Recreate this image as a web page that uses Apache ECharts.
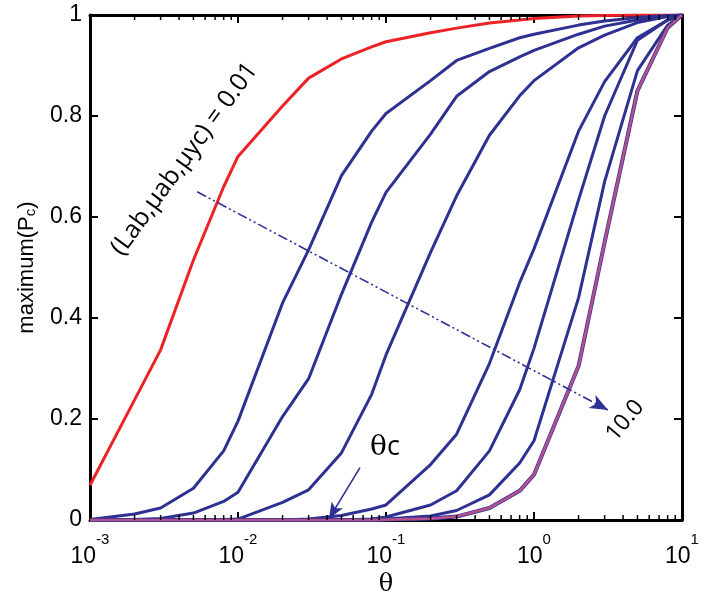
<!DOCTYPE html>
<html><head><meta charset="utf-8">
<script src="https://cdn.jsdelivr.net/npm/echarts/dist/echarts.min.js"></script>
<style>html,body{margin:0;padding:0;background:#fff}#c{width:706px;height:602px}</style>
</head><body><div id="c"></div>
<script>
// theta sample points (x axis, log scale)
const thetaValues = [0.001, 0.002, 0.003, 0.005, 0.008, 0.01, 0.02, 0.03, 0.05, 0.08, 0.1, 0.2, 0.3, 0.5, 0.8, 1, 2, 3, 5, 8, 10];
// maximum(Pc) for each curve
const redCurve   = [0.069, 0.238, 0.337, 0.515, 0.66, 0.72, 0.82, 0.875, 0.913, 0.937, 0.947, 0.965, 0.974, 0.984, 0.99, 0.993, 0.998, 0.999, 1, 1, 1];
const blueCurve1 = [0.001, 0.012, 0.024, 0.063, 0.137, 0.196, 0.43, 0.535, 0.682, 0.77, 0.805, 0.87, 0.91, 0.934, 0.955, 0.962, 0.98, 0.988, 0.995, 0.999, 1];
const blueCurve2 = [0, 0.001, 0.003, 0.014, 0.037, 0.055, 0.205, 0.28, 0.447, 0.59, 0.649, 0.764, 0.839, 0.888, 0.917, 0.93, 0.962, 0.978, 0.99, 0.998, 1];
const blueCurve3 = [0, 0, 0, 0, 0.001, 0.002, 0.035, 0.06, 0.133, 0.249, 0.327, 0.53, 0.642, 0.762, 0.84, 0.87, 0.935, 0.96, 0.985, 0.997, 1];
const blueCurve4 = [0, 0, 0, 0, 0, 0, 0, 0.002, 0.009, 0.022, 0.03, 0.11, 0.17, 0.31, 0.47, 0.537, 0.77, 0.868, 0.955, 0.99, 1];
const blueCurve5 = [0, 0, 0, 0, 0, 0, 0, 0, 0, 0.002, 0.006, 0.03, 0.058, 0.137, 0.258, 0.34, 0.634, 0.8, 0.95, 0.99, 1];
const blueCurve6 = [0, 0, 0, 0, 0, 0, 0, 0, 0, 0.001, 0.002, 0.008, 0.019, 0.05, 0.113, 0.157, 0.44, 0.67, 0.89, 0.98, 1];
const magentaCurve = [0, 0, 0, 0, 0, 0, 0, 0, 0, 0, 0.001, 0.003, 0.007, 0.024, 0.058, 0.09, 0.305, 0.55, 0.85, 0.975, 1];
// axis ticks
const yTickLabels = ['0', '0.2', '0.4', '0.6', '0.8', '1'];
const minorTickValues = [0.002,0.003,0.004,0.005,0.006,0.007,0.008,0.009,
  0.02,0.03,0.04,0.05,0.06,0.07,0.08,0.09,
  0.2,0.3,0.4,0.5,0.6,0.7,0.8,0.9,
  2,3,4,5,6,7,8,9];
// annotations (data coordinates)
const trendArrowStart = [0.0053, 0.65];
const trendArrowEnd = [3.16, 0.218];
const thetaCArrowStart = [0.0667, 0.104];
const thetaCArrowEnd = [0.0412, 0.003];
const labelLowAnchor = [0.00435, 0.715];
const labelHighAnchor = [4.12, 0.197];
const thetaCAnchor = [0.0984, 0.144];

const BLUE = '#2e3192', RED = '#ec2227', MAG = '#b5508f';
const zip = arr => thetaValues.map((x, i) => [x, arr[i]]);
const lineSeries = (arr, color, width, z) => ({
  type: 'line', data: zip(arr), showSymbol: false, symbol: 'none', z: z || 2,
  lineStyle: {color: color, width: width}, itemStyle: {color: color}, animation: false, silent: true
});

const supLabel = v => {
  const e = Math.round(Math.log10(v));
  return '{b|10}{s|' + e + '}';
};

const xCommon = {
  type: 'log', logBase: 10, min: 0.001, max: 10, gridIndex: 0,
  axisLine: {show: true, onZero: false, lineStyle: {color: '#000', width: 3}},
  axisTick: {show: true, inside: true, length: 8, lineStyle: {color: '#000', width: 2}},
  splitLine: {show: false}, minorTick: {show: false}, minorSplitLine: {show: false}
};
const yCommon = {
  type: 'value', min: 0, max: 1, interval: 0.2,
  axisLine: {show: true, onZero: false, lineStyle: {color: '#000', width: 3}},
  axisTick: {show: true, inside: true, length: 8, lineStyle: {color: '#000', width: 2}},
  splitLine: {show: false}
};

const chart = echarts.init(document.getElementById('c'), null, {renderer: 'canvas'});
const option = {
  animation: false,
  backgroundColor: '#fff',
  grid: {left: 90, right: 24, top: 15, bottom: 79, containLabel: false},
  xAxis: [
    Object.assign({}, xCommon, {
      position: 'bottom',
      axisLabel: {
        margin: 12, formatter: supLabel,
        rich: {
          b: {fontFamily: 'Liberation Sans', fontSize: 23, color: '#000', lineHeight: 36, verticalAlign: 'bottom'},
          s: {fontFamily: 'Liberation Sans', fontSize: 15, color: '#000', lineHeight: 14, verticalAlign: 'top'}
        }
      },
      name: 'θ', nameLocation: 'middle', nameGap: 50,
      nameTextStyle: {fontFamily: 'DejaVu Serif', fontSize: 24, color: '#000'}
    }),
    Object.assign({}, xCommon, {position: 'top', axisLabel: {show: false}})
  ],
  yAxis: [
    Object.assign({}, yCommon, {
      position: 'left',
      axisLabel: {
        margin: 8, fontFamily: 'Liberation Sans', fontSize: 23, color: '#000',
        formatter: v => yTickLabels[Math.round(v / 0.2)]
      },
      name: 'maximum(P{c|c})', nameLocation: 'middle', nameGap: 52,
      nameTextStyle: {
        fontFamily: 'Liberation Sans', fontSize: 22, color: '#000',
        rich: {c: {fontFamily: 'Liberation Sans', fontSize: 15, color: '#000', verticalAlign: 'bottom', lineHeight: 16, padding: [8, 0, 0, 0]}}
      }
    }),
    Object.assign({}, yCommon, {position: 'right', axisLabel: {show: false}})
  ],
  series: [
    lineSeries(redCurve, RED, 3, 2),
    lineSeries(blueCurve1, BLUE, 3, 3),
    lineSeries(blueCurve2, BLUE, 3, 3),
    lineSeries(blueCurve3, BLUE, 3, 3),
    lineSeries(blueCurve4, BLUE, 3, 3),
    lineSeries(blueCurve5, BLUE, 3, 3),
    lineSeries(blueCurve6, BLUE, 3, 3),
    lineSeries(magentaCurve, BLUE, 4, 3),
    Object.assign(lineSeries(magentaCurve, MAG, 2.6, 4), {
      markLine: {
        silent: true, animation: false, label: {show: false},
        emphasis: {disabled: true},
        data: [
          [{coord: trendArrowStart, symbol: 'none', lineStyle: {color: BLUE, width: 1.6, type: [10, 3, 2, 3, 2, 3]}},
           {coord: trendArrowEnd, symbol: 'arrow', symbolSize: [11, 18], itemStyle: {color: BLUE}}],
          [{coord: thetaCArrowStart, symbol: 'none', lineStyle: {color: BLUE, width: 1.6, type: 'solid'}},
           {coord: thetaCArrowEnd, symbol: 'arrow', symbolSize: [10, 16], itemStyle: {color: BLUE}}]
        ]
      }
    }),
    {
      type: 'custom', xAxisIndex: 0, yAxisIndex: 0, silent: true, clip: false, z: 5, animation: false,
      data: minorTickValues.map(v => [v, 0]),
      renderItem: function (params, api) {
        const p = api.coord([api.value(0), 0]);
        const cs = params.coordSys;
        const bottom = cs.y + cs.height, top = cs.y;
        return {type: 'group', children: [
          {type: 'line', shape: {x1: p[0], y1: bottom, x2: p[0], y2: bottom - 5}, style: {stroke: '#000', lineWidth: 1.5}},
          {type: 'line', shape: {x1: p[0], y1: top, x2: p[0], y2: top + 5}, style: {stroke: '#000', lineWidth: 1.5}}
        ]};
      }
    }
  ]
};
chart.setOption(option);

const px = c => chart.convertToPixel({xAxisIndex: 0, yAxisIndex: 0}, c);
const a1 = px(labelLowAnchor), a2 = px(labelHighAnchor), a3 = px(thetaCAnchor);
chart.setOption({
  graphic: [
    {type: 'text', x: a1[0], y: a1[1], rotation: 54 * Math.PI / 180, z: 10,
     style: {text: '(Lab,μab,μyc) = 0.01', fontFamily: 'Open Sans', fontSize: 25, fill: '#000', align: 'center', verticalAlign: 'middle'}},
    {type: 'text', x: a2[0], y: a2[1], rotation: 50 * Math.PI / 180, z: 10,
     style: {text: '10.0', fontFamily: 'Open Sans', fontSize: 23, fill: '#000', align: 'center', verticalAlign: 'middle'}},
    {type: 'text', x: a3[0], y: a3[1], z: 10,
     style: {text: '{t|θ}{c|c}', align: 'center', verticalAlign: 'middle',
       rich: {t: {fontFamily: 'DejaVu Serif', fontSize: 28, fill: '#000'}, c: {fontFamily: 'Open Sans', fontSize: 27, fill: '#000'}}}}
  ]
});
</script>
</body></html>
